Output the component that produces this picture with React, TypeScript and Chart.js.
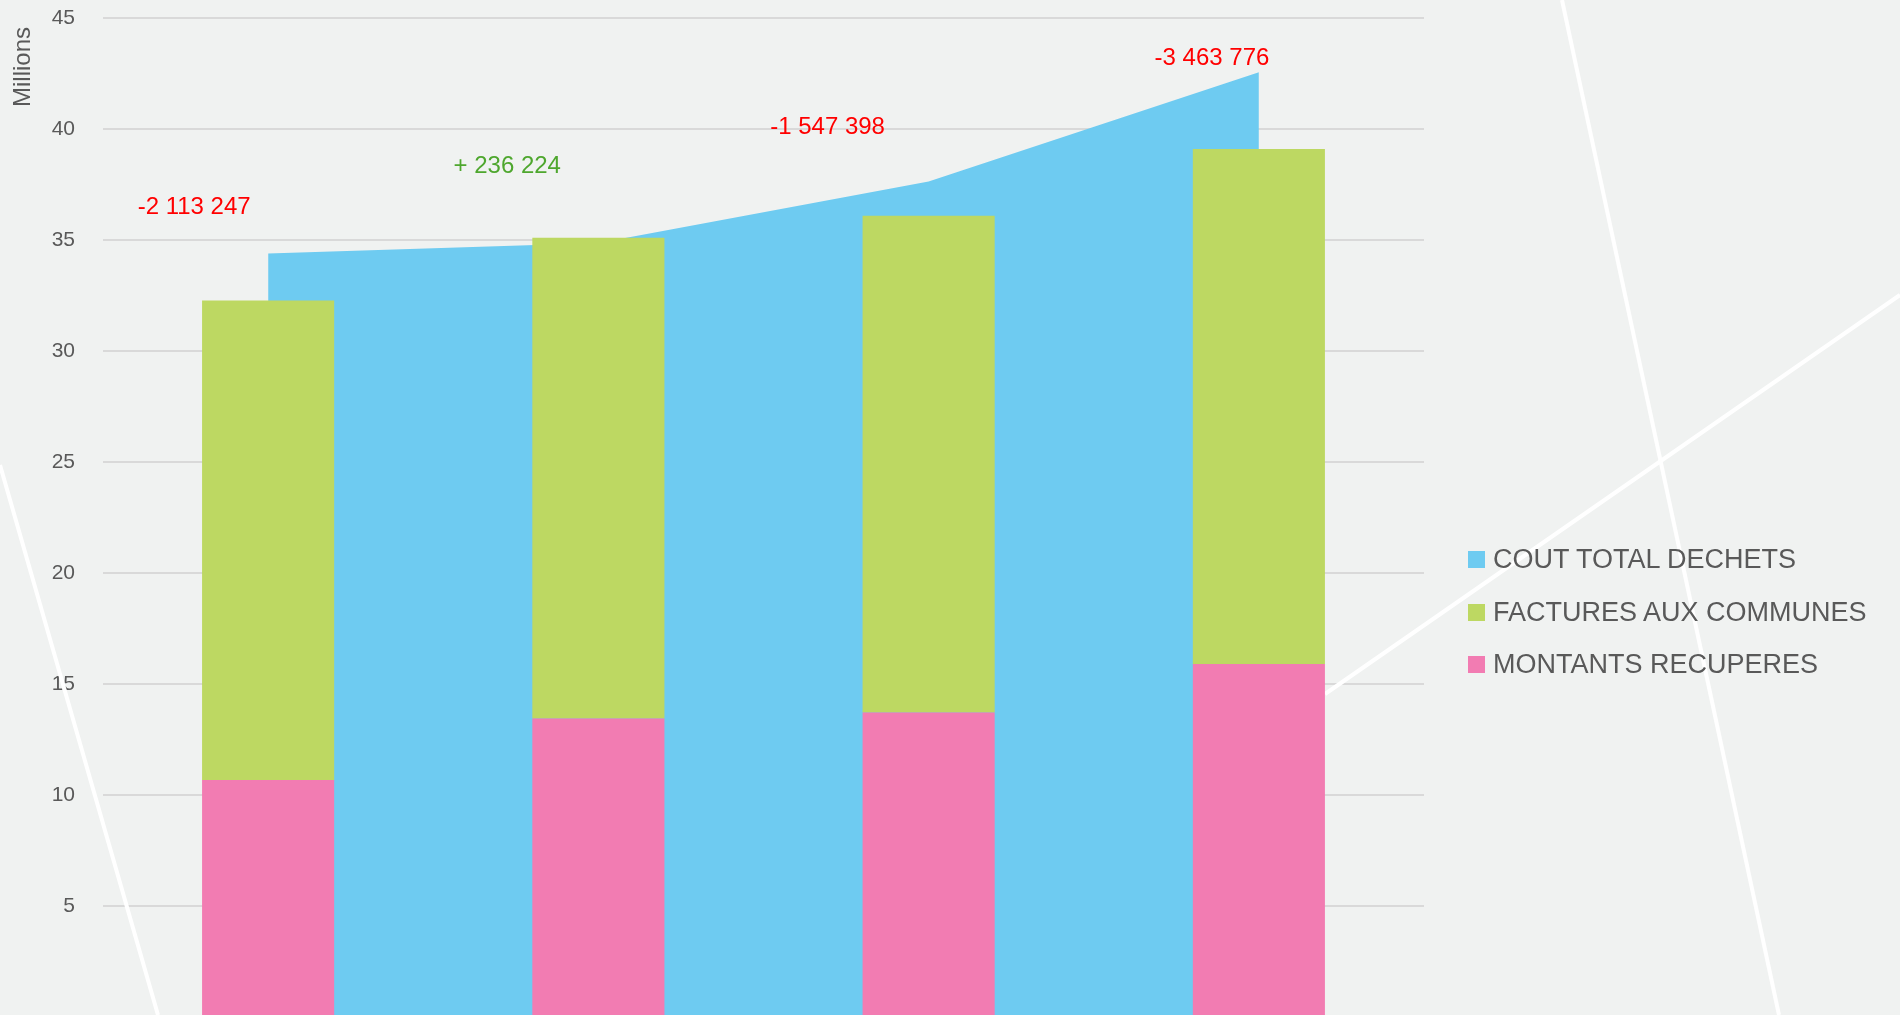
import React, { useEffect, useRef } from "react";
import { Chart, registerables } from "chart.js";

Chart.register(...registerables);

// ---- data (millions) ----
const categories = ["2017", "2018", "2019", "2020"];
const coutTotalDechets = [34.39, 34.87, 37.64, 42.56];
const facturesAuxCommunes = [21.6, 21.65, 22.37, 23.2];
const montantsRecuperes = [10.68, 13.45, 13.72, 15.9];
const yTicks = [0, 5, 10, 15, 20, 25, 30, 35, 40, 45];
const yTitle = "Millions";

// annotation labels (differences) and their anchor in data units
const diffLabels = ["-2 113 247", "+ 236 224", "-1 547 398", "-3 463 776"];
const diffPositive = [false, true, false, false];
const diffLabelX = [-0.224, -0.276, -0.306, -0.142]; // offset in category widths
const diffLabelY = [36.49, 38.33, 40.09, 43.2]; // value on y axis

const seriesNames = ["COUT TOTAL DECHETS", "FACTURES AUX COMMUNES", "MONTANTS RECUPERES"];
const seriesColors = ["#6ECBF1", "#BDD862", "#F27CB2"];

const BG = "#F0F2F1";
const TEXT = "#595959";
const FONT = "'Liberation Sans', Arial, sans-serif";

const bgLinesPlugin = {
  id: "bgLines",
  beforeDraw(chart: any) {
    const { ctx, width, height } = chart;
    ctx.save();
    ctx.fillStyle = BG;
    ctx.fillRect(0, 0, width, height);
    ctx.restore();
  },
  beforeDatasetsDraw(chart: any) {
    const { ctx } = chart;
    ctx.save();
    ctx.strokeStyle = "#FFFFFF";
    ctx.lineWidth = 4;
    const segs = [
      [0, 465, 158, 1015],
      [1562, 0, 1779, 1015],
      [1325, 694, 1900, 295],
    ];
    for (const [x1, y1, x2, y2] of segs) {
      ctx.beginPath();
      ctx.moveTo(x1, y1);
      ctx.lineTo(x2, y2);
      ctx.stroke();
    }
    ctx.restore();
  },
  afterDraw(chart: any) {
    const { ctx } = chart;
    ctx.save();
    ctx.translate(23, 67);
    ctx.rotate(-Math.PI / 2);
    ctx.font = `24px ${FONT}`;
    ctx.fillStyle = TEXT;
    ctx.textAlign = "center";
    ctx.textBaseline = "middle";
    ctx.fillText(yTitle, 0, 0);
    ctx.restore();
  },
};

const diffLabelsPlugin = {
  id: "diffLabels",
  afterDatasetsDraw(chart: any) {
    const { ctx } = chart;
    const xs = chart.scales.x;
    const ys = chart.scales.y;
    const catW = xs.getPixelForValue(1) - xs.getPixelForValue(0);
    ctx.save();
    ctx.font = `24px ${FONT}`;
    ctx.textAlign = "center";
    ctx.textBaseline = "middle";
    diffLabels.forEach((t, i) => {
      ctx.fillStyle = diffPositive[i] ? "#4EA72E" : "#FF0000";
      const x = xs.getPixelForValue(i) + diffLabelX[i] * catW;
      const y = ys.getPixelForValue(diffLabelY[i]);
      ctx.fillText(t, x, y);
    });
    ctx.restore();
  },
};

export default function App() {
  const ref = useRef<HTMLCanvasElement | null>(null);

  useEffect(() => {
    if (!ref.current) return;
    const chart = new Chart(ref.current, {
      type: "bar",
      data: {
        labels: categories,
        datasets: [
          {
            type: "line",
            label: seriesNames[0],
            data: coutTotalDechets,
            backgroundColor: seriesColors[0],
            borderColor: seriesColors[0],
            borderWidth: 0,
            pointRadius: 0,
            fill: "origin",
            tension: 0,
            order: 2,
            stack: "line",
          } as any,
          {
            type: "bar",
            label: seriesNames[2],
            data: montantsRecuperes,
            backgroundColor: seriesColors[2],
            order: 1,
            stack: "bars",
            barPercentage: 0.4,
            categoryPercentage: 1,
          },
          {
            type: "bar",
            label: seriesNames[1],
            data: facturesAuxCommunes,
            backgroundColor: seriesColors[1],
            order: 1,
            stack: "bars",
            barPercentage: 0.4,
            categoryPercentage: 1,
          },
        ],
      },
      options: {
        animation: false,
        responsive: false,
        maintainAspectRatio: false,
        layout: { padding: { left: 0, right: 476, top: 18, bottom: 13 } },
        plugins: {
          legend: { display: false },
          tooltip: { enabled: false },
        },
        scales: {
          x: {
            display: false,
            stacked: true,
            offset: true,
          },
          y: {
            stacked: true,
            min: 0,
            max: 45,
            afterFit(scale: any) {
              scale.width = 103;
              scale.paddingTop = 0;
              scale.paddingBottom = 0;
            },
            afterBuildTicks(scale: any) {
              scale.ticks = yTicks.map((v) => ({ value: v }));
            },
            ticks: {
              padding: 28,
              color: TEXT,
              font: { family: FONT, size: 21 },
              callback: (v: any) => (v === 0 ? "" : String(v)),
            },
            grid: {
              color: "#D9D9D9",
              lineWidth: 2,
              drawTicks: false,
            },
            border: { display: false },
          },
        },
      },
      plugins: [bgLinesPlugin, diffLabelsPlugin],
    });
    return () => chart.destroy();
  }, []);

  const legendTops = [559, 612, 664];

  return (
    <div
      style={{
        position: "fixed",
        left: 0,
        top: 0,
        width: 1900,
        height: 1015,
        overflow: "hidden",
        background: BG,
      }}
    >
      <canvas ref={ref} width={1900} height={1030} style={{ display: "block" }} />
      {seriesNames.map((name, i) => (
        <div
          key={name}
          style={{
            position: "absolute",
            left: 1468,
            top: legendTops[i] - 17,
            height: 34,
            display: "flex",
            alignItems: "center",
            fontFamily: FONT,
            fontSize: 27,
            color: TEXT,
            whiteSpace: "nowrap",
          }}
        >
          <span
            style={{
              display: "inline-block",
              width: 17,
              height: 17,
              background: seriesColors[i],
              marginRight: 8,
            }}
          />
          {name}
        </div>
      ))}
    </div>
  );
}
